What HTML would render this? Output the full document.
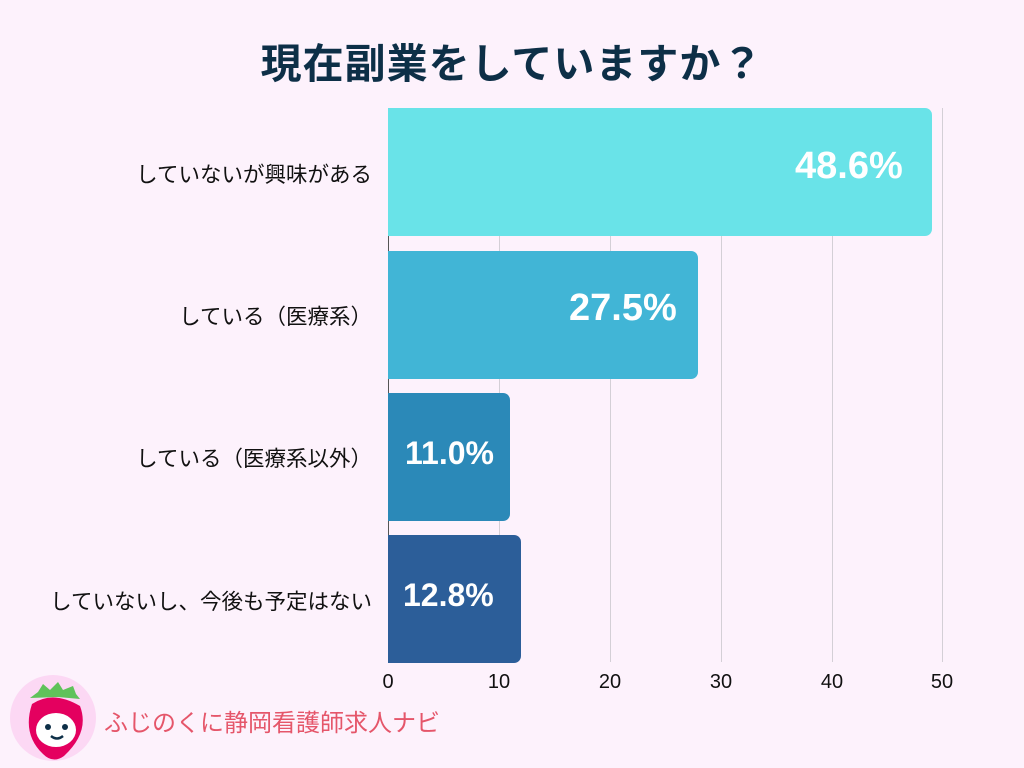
<!DOCTYPE html>
<html><head><meta charset="utf-8"><style>
body{margin:0;width:1024px;height:768px;background:#fdf2fc;font-family:"Liberation Sans","Noto Sans CJK JP",sans-serif;position:relative;overflow:hidden}
.t{position:absolute;left:0;width:1024px;top:30px;text-align:center;font-size:41px;font-weight:bold;color:#0d2f47;letter-spacing:1px}
.g{position:absolute;top:108px;height:554px;width:1px;background:#d4cfd6}
.bar{position:absolute;left:388px;height:128px;border-radius:0 7px 7px 0}
.v{position:absolute;color:#fff;font-weight:bold;font-size:38px;font-family:"Liberation Sans",sans-serif}
.lab{position:absolute;right:652px;font-size:21.5px;color:#111;white-space:nowrap}
.tk{position:absolute;top:671px;font-size:20px;color:#111;width:40px;margin-left:-20px;text-align:center}
</style></head><body>
<div class="t">現在副業をしていますか？</div>
<div class="g" style="left:499px"></div><div class="g" style="left:610px"></div><div class="g" style="left:721px"></div><div class="g" style="left:832px"></div><div class="g" style="left:942px"></div>
<div class="g" style="left:388px;background:#555"></div>
<div class="bar" style="top:108px;width:544px;background:#69e3e8"></div>
<div class="bar" style="top:251px;width:310px;background:#41b5d6"></div>
<div class="bar" style="top:393px;width:122px;background:#2b89b8"></div>
<div class="bar" style="top:535px;width:133px;background:#2c5e99"></div>
<div class="v" style="left:795px;top:145px">48.6%</div>
<div class="v" style="left:569px;top:287px">27.5%</div>
<div class="v" style="left:405px;top:435px;font-size:32px">11.0%</div>
<div class="v" style="left:403px;top:577px;font-size:32px">12.8%</div>
<div class="lab" style="top:158px">していないが興味がある</div>
<div class="lab" style="top:300px">している（医療系）</div>
<div class="lab" style="top:442px">している（医療系以外）</div>
<div class="lab" style="top:585px">していないし、今後も予定はない</div>
<div class="tk" style="left:388px">0</div><div class="tk" style="left:499px">10</div><div class="tk" style="left:610px">20</div><div class="tk" style="left:721px">30</div><div class="tk" style="left:832px">40</div><div class="tk" style="left:942px">50</div>
<svg style="position:absolute;left:8px;top:672px" width="92" height="92">
<circle cx="45" cy="46" r="43" fill="#fcd8f4"/>
<path d="M22 26 L30 20 L35 12 L42 18 L50 10 L55 18 L65 14 L68 22 L72 27 L50 25 Z" fill="#5fc25a"/>
<path d="M24 32 Q45 18 72 34 Q82 60 56 84 Q45 92 35 82 Q14 62 24 32Z" fill="#e4005f"/>
<ellipse cx="48" cy="58" rx="20" ry="17" fill="#fff"/>
<circle cx="40" cy="55" r="3" fill="#0d2f47"/><circle cx="57" cy="55" r="3" fill="#0d2f47"/>
<path d="M43 64 Q49 69 55 64" stroke="#0d2f47" stroke-width="2.5" fill="none"/>
</svg>
<div style="position:absolute;left:104px;top:703px;font-size:24px;color:#e5566a">ふじのくに静岡看護師求人ナビ</div>
</body></html>
